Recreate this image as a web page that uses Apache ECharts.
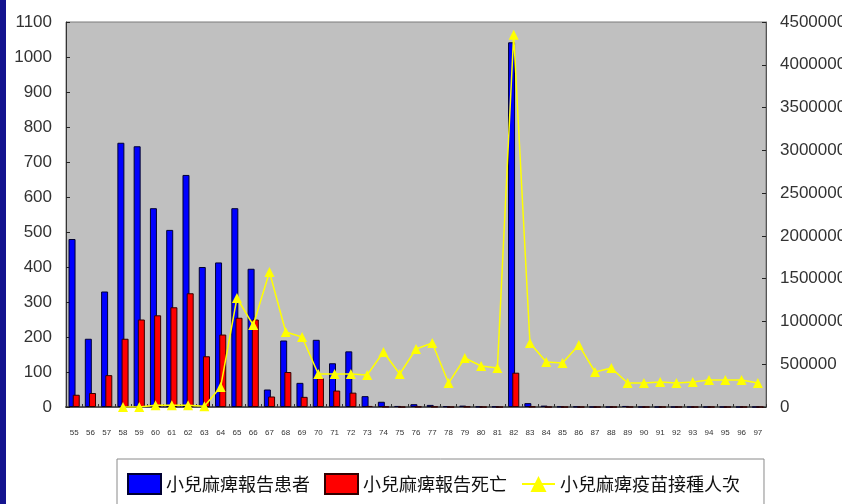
<!DOCTYPE html>
<html>
<head>
<meta charset="utf-8">
<script src="https://cdn.jsdelivr.net/npm/echarts@6/dist/echarts.min.js"></script>
<style>
  html, body { margin: 0; padding: 0; background: #ffffff; }
  #chart { width: 842px; height: 504px; }
</style>
</head>
<body>
<div id="chart"></div>
<script>
// 民國年份
var years = ['55','56','57','58','59','60','61','62','63','64','65','66','67','68','69',
             '70','71','72','73','74','75','76','77','78','79','80','81','82','83','84',
             '85','86','87','88','89','90','91','92','93','94','95','96','97'];

// 小兒麻痺報告患者
var cases = [480, 195, 330, 755, 745, 568, 506, 663, 400, 413, 568, 395, 50, 190, 69,
             192, 125, 159, 31, 15, 3, 8, 6, 2, 4, 1, 1, 1042, 11, 4,
             1, 1, 0, 0, 3, 0, 0, 0, 0, 0, 0, 0, 0];

// 小兒麻痺報告死亡
var deaths = [35, 40, 91, 195, 250, 262, 285, 325, 145, 207, 255, 250, 30, 100, 29,
              82, 47, 41, 3, 1, 0, 1, 1, 0, 1, 0, 0, 98, 1, 0,
              0, 0, 0, 0, 0, 0, 0, 0, 0, 0, 0, 0, 0];

// 小兒麻痺疫苗接種人次
var doses = [null, null, null, 0, 0, 20000, 20000, 20000, 10000, 234000, 1274000, 958000, 1578000, 877000, 818000,
             386000, 386000, 386000, 374000, 643000, 386000, 678000, 748000, 280000, 573000, 479000, 456000, 4350000, 748000, 526000,
             514000, 725000, 409000, 456000, 280000, 280000, 292000, 280000, 292000, 316000, 316000, 316000, 280000];

var leftTicks = { min: 0, max: 1100, step: 100 };
var rightTicks = { min: 0, max: 4500000, step: 500000 };

var numFont = '"Liberation Sans", Arial, sans-serif';
var cjkFont = '"Noto Sans CJK TC", "Noto Sans CJK SC", sans-serif';

function plain(v) { return String(v); }

var chart = echarts.init(document.getElementById('chart'), null, { renderer: 'canvas' });

chart.setOption({
  animation: false,
  backgroundColor: '#ffffff',
  graphic: [
    { type: 'rect', left: 0, top: 0, shape: { width: 6, height: 504 },
      style: { fill: '#14148f' }, z: 100 }
  ],
  grid: {
    left: 66, right: 76, top: 22, bottom: 97,
    outerBoundsMode: 'none',
    containLabel: false,
    show: true, backgroundColor: '#c0c0c0',
    borderColor: '#7a7a7a', borderWidth: 1
  },
  legend: {
    left: 117, top: 459,
    padding: [14, 24, 14, 10],
    borderColor: '#8a8a8a', borderWidth: 1,
    itemWidth: 33, itemHeight: 20, itemGap: 14,
    textStyle: { fontFamily: cjkFont, fontSize: 18, color: '#111' },
    data: [
      { name: '小兒麻痺報告患者', icon: 'rect' },
      { name: '小兒麻痺報告死亡', icon: 'rect' },
      { name: '小兒麻痺疫苗接種人次' }
    ]
  },
  xAxis: {
    type: 'category',
    data: years,
    boundaryGap: true,
    axisLine: { show: true, lineStyle: { color: '#555', width: 2 } },
    axisTick: { show: true, inside: true, length: 3, lineStyle: { color: '#333' } },
    axisLabel: { interval: 0, margin: 22, fontFamily: numFont, fontSize: 8, color: '#333' },
    splitLine: { show: false }
  },
  yAxis: [
    {
      type: 'value', position: 'left',
      min: leftTicks.min, max: leftTicks.max, interval: leftTicks.step,
      axisLine: { show: true, lineStyle: { color: '#333', width: 1 } },
      axisTick: { show: true, inside: true, length: 4, lineStyle: { color: '#222' } },
      axisLabel: { margin: 14, fontFamily: numFont, fontSize: 17, color: '#333', formatter: plain },
      splitLine: { show: false }
    },
    {
      type: 'value', position: 'right',
      min: rightTicks.min, max: rightTicks.max, interval: rightTicks.step,
      axisLine: { show: true, lineStyle: { color: '#555', width: 1 } },
      axisTick: { show: true, inside: true, length: 4, lineStyle: { color: '#222' } },
      axisLabel: { margin: 14, fontFamily: numFont, fontSize: 17, color: '#333', formatter: plain },
      splitLine: { show: false }
    }
  ],
  series: [
    {
      name: '小兒麻痺報告患者', type: 'bar', yAxisIndex: 0,
      data: cases, barWidth: 7, barGap: '-40%',
      itemStyle: { color: '#0000ff', borderColor: '#000033', borderWidth: 1 }
    },
    {
      name: '小兒麻痺報告死亡', type: 'bar', yAxisIndex: 0,
      data: deaths, barWidth: 7, barGap: '-40%',
      itemStyle: { color: '#ff0000', borderColor: '#330000', borderWidth: 1 }
    },
    {
      name: '小兒麻痺疫苗接種人次', type: 'line', yAxisIndex: 1,
      data: doses, connectNulls: false,
      symbol: 'triangle', symbolSize: 10, showAllSymbol: true,
      lineStyle: { color: '#ffff00', width: 1.5 },
      itemStyle: { color: '#ffff00', borderWidth: 0 },
      z: 5
    }
  ]
});
</script>
</body>
</html>
